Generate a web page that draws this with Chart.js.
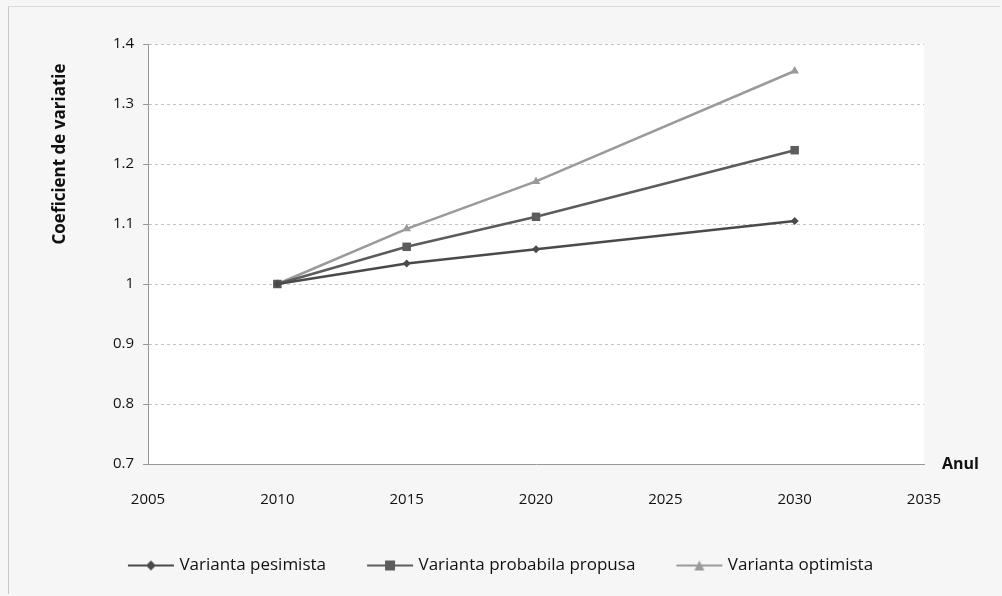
<!DOCTYPE html>
<html>
<head>
<meta charset="utf-8">
<script src="https://cdn.jsdelivr.net/npm/chart.js@4/dist/chart.umd.min.js"></script>
<style>
  html, body { margin: 0; padding: 0; background: #f6f6f6; }
  #wrap { position: absolute; left: 8px; top: 6px; width: 992px; height: 588px; border-left: 1px solid #c8c8c8; border-top: 1px solid #dcdcdc; box-sizing: border-box; }
  canvas { position: absolute; left: 0; top: 0; }
</style>
</head>
<body>
<div id="wrap"></div>
<canvas id="grafic" width="1002" height="596"></canvas>
<script>
// date
const ani = [2010, 2015, 2020, 2030];
const pesimista = [1, 1.034, 1.058, 1.105];
const probabila = [1, 1.062, 1.112, 1.223];
const optimista = [1, 1.092, 1.171, 1.355];
const numeSerii = ['Varianta pesimista', 'Varianta probabila propusa', 'Varianta optimista'];

const culori = ['#4a4a4a', '#5c5c5c', '#9a9a9a'];
const forme = ['rectRot', 'rect', 'triangle'];
const marimi = [4, 6, 5];

function puncte(valori) {
    return ani.map((an, i) => ({ x: an, y: valori[i] }));
}

// icon legenda: linie + marker
function iconLegenda(culoare, forma) {
    const c = document.createElement('canvas');
    c.width = 48; c.height = 14;
    const g = c.getContext('2d');
    g.strokeStyle = culoare; g.fillStyle = culoare; g.lineWidth = 2;
    g.beginPath(); g.moveTo(1, 7); g.lineTo(47, 7); g.stroke();
    g.beginPath();
    if (forma === 'rectRot') { g.moveTo(24, 2); g.lineTo(29, 7); g.lineTo(24, 12); g.lineTo(19, 7); }
    else if (forma === 'rect') { g.rect(19, 2, 10, 10); }
    else { g.moveTo(24, 2); g.lineTo(29, 12); g.lineTo(19, 12); }
    g.closePath(); g.fill();
    return c;
}

const fundalPlot = {
    id: 'fundalPlot',
    beforeDraw(chart) {
        const { ctx, chartArea: a } = chart;
        ctx.save();
        ctx.fillStyle = '#ffffff';
        ctx.fillRect(a.left, a.top, a.right - a.left, a.bottom - a.top);
        ctx.restore();
    },
    afterDraw(chart) {
        const { ctx, chartArea: a } = chart;
        ctx.save();
        ctx.font = 'bold 16px "Open Sans"';
        ctx.fillStyle = '#111';
        ctx.textBaseline = 'middle';
        ctx.fillText('Anul', 942, a.bottom);
        // titlul axei Y, in partea de sus ca in Excel
        ctx.translate(60, 154);
        ctx.rotate(-Math.PI / 2);
        ctx.textAlign = 'center';
        ctx.font = 'bold 17px "Open Sans"';
        ctx.fillText('Coeficient de variatie', 0, 0);
        ctx.restore();
    }
};

const seturi = [pesimista, probabila, optimista].map((v, i) => ({
    label: numeSerii[i],
    data: puncte(v),
    borderColor: culori[i],
    backgroundColor: culori[i],
    borderWidth: 2.5,
    pointStyle: forme[i],
    pointRadius: marimi[i],
    pointBorderWidth: 0,
    tension: 0,
    fill: false
}));

new Chart(document.getElementById('grafic').getContext('2d'), {
    type: 'line',
    data: { datasets: seturi },
    plugins: [fundalPlot],
    options: {
        responsive: false,
        animation: false,
        layout: { padding: { left: 80, right: 78, top: 44, bottom: 12 } },
        plugins: {
            legend: {
                position: 'bottom',
                labels: {
                    usePointStyle: true,
                    pointStyleWidth: 40,
                    padding: 44,
                    color: '#111',
                    font: { family: 'Open Sans', size: 17 },
                    generateLabels(chart) {
                        return chart.data.datasets.map((d, i) => ({
                            text: d.label,
                            fillStyle: culori[i],
                            strokeStyle: culori[i],
                            pointStyle: iconLegenda(culori[i], forme[i]),
                            datasetIndex: i,
                            fontColor: '#111'
                        }));
                    }
                }
            },
            tooltip: { enabled: false }
        },
        scales: {
            x: {
                type: 'linear',
                min: 2005,
                max: 2035,
                ticks: { stepSize: 5, color: '#111', font: { family: 'Open Sans', size: 15 }, padding: 27, callback: v => String(v) },
                grid: { display: false, drawTicks: false },
                border: { color: '#999', width: 1 },
                afterFit(s) { s.height = 49; }
            },
            y: {
                min: 0.7,
                max: 1.4,
                ticks: { stepSize: 0.1, color: '#111', font: { family: 'Open Sans', size: 15 }, padding: 9, callback: v => Math.round(v * 10) / 10 },
                grid: { color: '#c4c4c4', tickLength: 5, tickColor: '#999', tickBorderDash: [] },
                border: { color: '#999', width: 1, dash: [3, 3] },
                afterFit(s) { s.width = 68; }
            }
        }
    }
});
</script>
</body>
</html>
